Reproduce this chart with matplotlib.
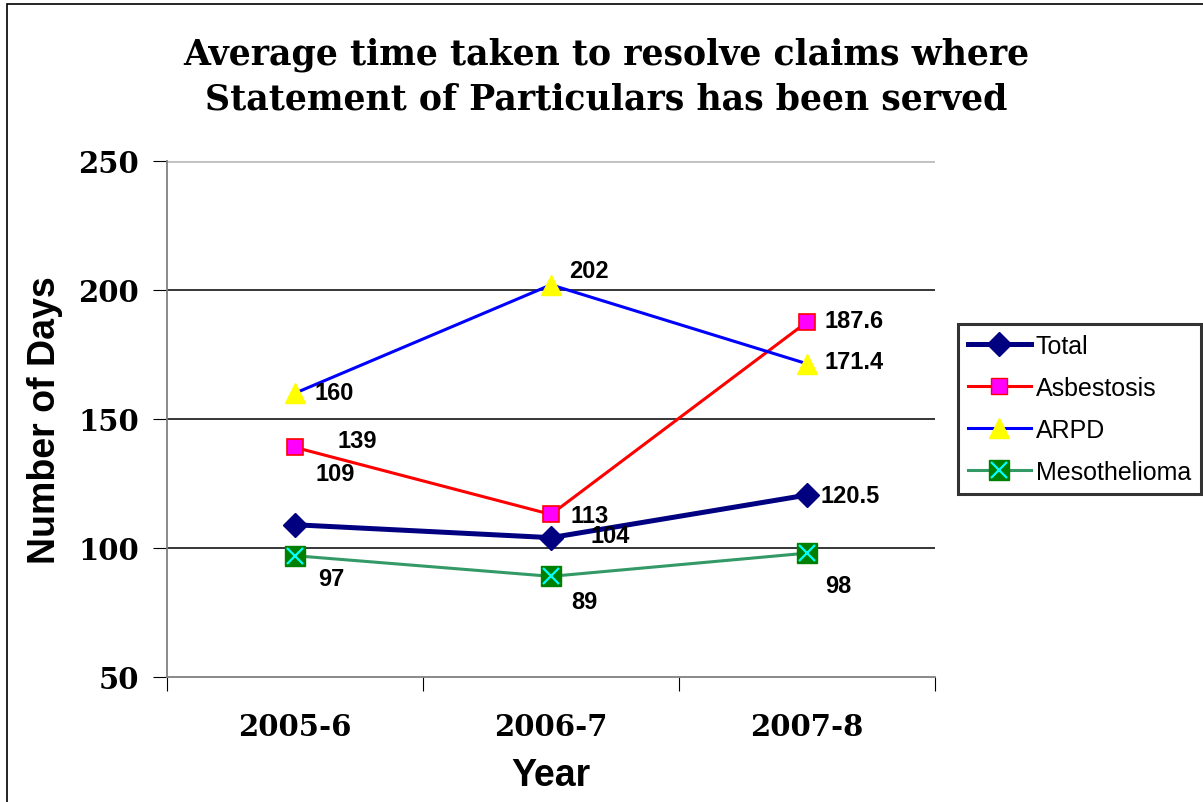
import matplotlib.pyplot as plt
from matplotlib.lines import Line2D
from matplotlib.patches import Rectangle

# ---- data ----
years = ["2005-6", "2006-7", "2007-8"]
total = [109, 104, 120.5]
asbestosis = [139, 113, 187.6]
arpd = [160, 202, 171.4]
mesothelioma = [97, 89, 98]

total_labels = ["109", "104", "120.5"]
asbestosis_labels = ["139", "113", "187.6"]
arpd_labels = ["160", "202", "171.4"]
meso_labels = ["97", "89", "98"]

# label offsets in pixels (dx, dy), left edge of text
total_off = [(21, 51), (40, 2), (14, 0)]
asb_off = [(43, 7), (20, -1), (18, 1)]
arpd_off = [(20, 1), (18, 14), (18, 2)]
meso_off = [(23, -23), (20, -25), (18, -32)]

SERIF = "DejaVu Serif"
SANS = "Liberation Sans"

fig = plt.figure(figsize=(12.03, 8.03), dpi=100)
ax = fig.add_axes([0.1388, 0.1557, 0.6384, 0.6426])

x = [i + 0.5 for i in range(len(years))]

ax.plot(x, total, color="#000080", lw=3.6, marker="D", ms=12,
        mfc="#000080", mec="#000080", zorder=4)
ax.plot(x, asbestosis, color="#ff0000", lw=2.2, marker="s", ms=11,
        mfc="#ff00ff", mec="#ff0000", mew=1.2, zorder=4)
ax.plot(x, arpd, color="#0000ff", lw=2.2, marker="^", ms=14,
        mfc="#ffff00", mec="#ffff00", zorder=4)
ax.plot(x, mesothelioma, color="#339966", lw=2.2, marker="s", ms=15,
        mfc="#008000", mec="#008000", zorder=4)
ax.plot(x, mesothelioma, ls="none", marker="x", ms=12, mec="#00ffff",
        mew=1.6, zorder=5)

# data labels
for vals, labs, offs in [(total, total_labels, total_off),
                         (asbestosis, asbestosis_labels, asb_off),
                         (arpd, arpd_labels, arpd_off),
                         (mesothelioma, meso_labels, meso_off)]:
    for xi, v, lab, (dx, dy) in zip(x, vals, labs, offs):
        ax.annotate(lab, (xi, v), xytext=(dx, dy), textcoords="offset pixels",
                    ha="left", va="center", fontsize=17, fontweight="bold",
                    family=SANS, zorder=6)

ax.set_xlim(0, 3)
ax.set_ylim(50, 250)
ax.set_yticks([50, 100, 150, 200, 250])
ax.set_xticks([0, 1, 2, 3])
ax.set_xticklabels([])
ax.set_xticks(x, minor=True)
ax.set_xticklabels(years, minor=True, fontsize=21, fontweight="bold", family=SERIF)
ax.tick_params(axis="x", which="minor", length=0, pad=25)
ax.tick_params(axis="x", which="major", length=10, direction="out", color="black")
ax.tick_params(axis="y", length=10, direction="out", color="black", pad=10,
               labelsize=21)
for t in ax.get_yticklabels():
    t.set_fontweight("bold")
    t.set_family(SERIF)

ax.grid(axis="y", color="black", lw=1.1)
glines = ax.get_ygridlines()
glines[0].set_visible(False)
glines[-1].set_color("#c0c0c0")
glines[-1].set_linewidth(2)
ax.set_axisbelow(True)

for s in ["left", "bottom"]:
    ax.spines[s].set_color("#808080")
    ax.spines[s].set_linewidth(1.3)
ax.spines["right"].set_visible(False)
ax.spines["top"].set_visible(False)

ax.set_ylabel("Number of Days", fontsize=27, fontweight="bold", family=SANS)
ax.yaxis.set_label_coords(-0.136, 0.5)
ax.set_xlabel("Year", fontsize=27, fontweight="bold", family=SANS, labelpad=12)

fig.text(0.504, 1 - 77 / 803,
         "Average time taken to resolve claims where\nStatement of Particulars has been served",
         ha="center", va="center", fontsize=25, fontweight="bold", family=SERIF,
         linespacing=1.42)

# legend
h_total = Line2D([], [], color="#000080", lw=3.6, marker="D", ms=12, mfc="#000080", mec="#000080")
h_asb = Line2D([], [], color="#ff0000", lw=2.2, marker="s", ms=11, mfc="#ff00ff", mec="#ff0000")
h_arpd = Line2D([], [], color="#0000ff", lw=2.2, marker="^", ms=14, mfc="#ffff00", mec="#ffff00")
h_meso = Line2D([], [], color="#339966", lw=2.2, marker="s", ms=15, mfc="#008000", mec="#008000")
h_mx = Line2D([], [], ls="none", marker="x", ms=12, mec="#00ffff", mew=1.6)
leg = fig.legend([h_total, h_asb, h_arpd, (h_meso, h_mx)],
                 ["Total", "Asbestosis", "ARPD", "Mesothelioma"],
                 loc="upper left", bbox_to_anchor=(958 / 1203, 1 - 325 / 803),
                 prop={"family": SANS, "size": 18}, frameon=True, fancybox=False,
                 edgecolor="black", handlelength=2.5, handletextpad=0.2,
                 borderpad=0.4, labelspacing=0.72, borderaxespad=0)
leg.get_frame().set_linewidth(2.2)

# outer chart border (left and top visible)
fig.add_artist(Rectangle((7 / 1203, -0.05), 1.2, 1 - 5 / 803 + 0.05,
                         transform=fig.transFigure, fill=False,
                         edgecolor="black", lw=1.2))

fig.savefig("out.png", dpi=100)
